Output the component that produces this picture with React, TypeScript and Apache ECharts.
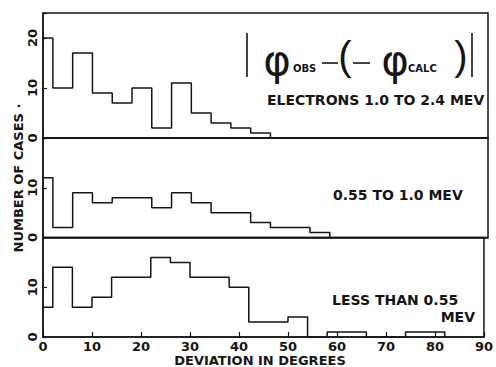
import React, { useEffect, useRef } from "react";
import * as echarts from "echarts";

// Bin edges (degrees); first bin is the half bin 0-2, then 4-degree bins
const binEdges = [0, 2, 6, 10, 14, 18, 22, 26, 30, 34, 38, 42, 46, 50, 54, 58, 62, 66, 70, 74, 78, 82, 86, 90];
// Counts per bin
const countsHigh = [20, 10, 17, 9, 7, 10, 2, 11, 5, 3, 2, 1]; // electrons 1.0 to 2.4 MeV
const countsMid = [12, 2, 9, 7, 8, 8, 6, 9, 7, 5, 5, 3, 2, 2, 1]; // 0.55 to 1.0 MeV
const countsLow = [6, 14, 6, 8, 12, 12, 16, 15, 12, 12, 10, 3, 3, 4, 0, 1, 1, 0, 0, 1, 1]; // < 0.55 MeV
const xTicks = [0, 10, 20, 30, 40, 50, 60, 70, 80, 90];
const yMaxes = [25, 20, 20];
const panelLabels = ["ELECTRONS 1.0 TO 2.4 MEV", "0.55 TO 1.0 MEV", "LESS THAN 0.55", "MEV"];

const INK = "#151515";
const FONT = "DejaVu Sans";

function stepData(counts: number[]) {
  const pts: number[][] = counts.map((c, i) => [binEdges[i], c]);
  const n = counts.length;
  pts.push([binEdges[n], counts[n - 1]]);
  pts.push([binEdges[n], 0]);
  return pts;
}

export default function App() {
  const ref = useRef<HTMLDivElement>(null);
  useEffect(() => {
    if (!ref.current) return;
    const chart = echarts.init(ref.current, null, { renderer: "svg" });
    const grids = [
      { left: 43, width: 445, top: 13, height: 125 },
      { left: 43, width: 445, top: 138, height: 99.5 },
      { left: 43, width: 445, top: 237.5, height: 99.5 },
    ].map((g) => ({ ...g, show: true, borderColor: INK, borderWidth: 1.5, backgroundColor: "transparent" }));

    const xAxes = [0, 1, 2].map((i) => ({
      type: "value",
      gridIndex: i,
      min: 0,
      max: 90,
      interval: 10,
      axisLine: { show: true, lineStyle: { color: INK, width: 1.5 } },
      axisTick: { show: i === 2, inside: true, length: 5, lineStyle: { color: INK, width: 1.2 } },
      axisLabel: {
        show: i === 2,
        color: INK,
        fontFamily: FONT,
        fontWeight: "bold",
        fontSize: 13,
        margin: 3,
        formatter: (v: number) => (xTicks.includes(v) ? String(v) : ""),
      },
      splitLine: { show: false },
    }));

    const yAxes = [0, 1, 2].map((i) => ({
      type: "value",
      gridIndex: i,
      min: 0,
      max: yMaxes[i],
      interval: 10,
      axisLine: { show: true, lineStyle: { color: INK, width: 1.5 } },
      axisTick: { show: true, inside: true, length: 4, lineStyle: { color: INK, width: 1.2 } },
      axisLabel: {
        show: true,
        rotate: 90,
        color: INK,
        fontFamily: FONT,
        fontWeight: "bold",
        fontSize: 13,
        margin: 4,
        formatter: (v: number) => (i === 0 ? (v <= 20 ? String(v) : "") : v < 20 ? String(v) : ""),
      },
      splitLine: { show: false },
    }));

    const all = [countsHigh, countsMid, countsLow];
    const series = all.map((c, i) => ({
      type: "line",
      xAxisIndex: i,
      yAxisIndex: i,
      step: "end",
      showSymbol: false,
      symbol: "none",
      lineStyle: { color: INK, width: 1.5 },
      data: stepData(c),
      silent: true,
    }));

    const txt = (text: string, x: number, y: number, font: string, align = "left", rotation = 0) => ({
      type: "text",
      x,
      y,
      rotation,
      style: {
        text,
        font,
        fill: INK,
        align,
        textAlign: align,
        verticalAlign: "middle",
        textVerticalAlign: "middle",
      },
    });
    const ln = (x1: number, y1: number, x2: number, y2: number) => ({
      type: "line",
      shape: { x1, y1, x2, y2 },
      style: { stroke: INK, lineWidth: 1.6 },
    });

    const graphic = [
      ln(247, 33, 247, 77),
      txt("φ", 277, 60, `42px ${FONT}`, "center"),
      txt("OBS", 293, 68, `bold 10px ${FONT}`, "left"),
      ln(322, 63, 338, 63),
      txt("(", 345, 56, `40px Liberation Sans`, "center"),
      ln(353, 63, 370, 63),
      txt("φ", 395, 60, `42px ${FONT}`, "center"),
      txt("CALC", 408, 68, `bold 10px ${FONT}`, "left"),
      txt(")", 461, 56, `40px Liberation Sans`, "center"),
      ln(472, 33, 472, 77),
      txt(panelLabels[0], 267, 100, `bold 14px ${FONT}`, "left"),
      txt(panelLabels[1], 333, 195, `bold 14px ${FONT}`, "left"),
      txt(panelLabels[2], 332, 300, `bold 14px ${FONT}`, "left"),
      txt(panelLabels[3], 475, 317, `bold 14px ${FONT}`, "right"),
      txt("NUMBER OF CASES ·", 18, 178, `bold 13px ${FONT}`, "center", Math.PI / 2),
      txt("DEVIATION IN DEGREES", 260, 360, `bold 13px ${FONT}`, "center"),
    ];

    chart.setOption({
      animation: false,
      backgroundColor: "#ffffff",
      grid: grids,
      xAxis: xAxes,
      yAxis: yAxes,
      series,
      graphic,
    });
    return () => chart.dispose();
  }, []);
  return <div ref={ref} style={{ position: "fixed", left: 0, top: 0, width: 496, height: 367 }} />;
}
